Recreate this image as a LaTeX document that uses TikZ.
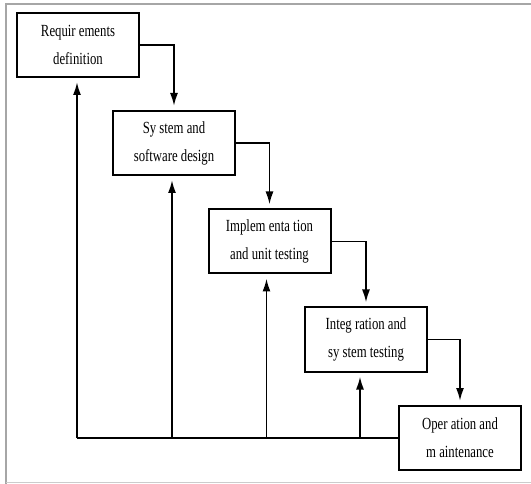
\documentclass[tikz,border=0pt]{standalone}
\usepackage{fontspec}
\setmainfont{Liberation Serif}[FakeStretch=0.75]
\usetikzlibrary{arrows.meta}
\tikzset{
  phase/.style={draw, line width=2pt, minimum width=122pt, minimum height=64pt,
    align=center, font=\fontsize{17}{28}\selectfont},
  flow/.style={line width=1.8pt, -{Latex[length=13pt,width=8pt]}, shorten >=4pt},
  back/.style={line width=1.8pt}
}
\begin{document}
\begin{tikzpicture}[x=1pt,y=-1pt]
\useasboundingbox (0,0) rectangle (531,484);
% frame
\draw[gray!70, line width=1.5pt] (6,484) -- (6,4) -- (531,4);
\draw[gray!40, line width=1pt] (6,482.5) -- (531,482.5);
% phases
\node[phase] (req) at (78,45) {Requir ements\\definition};
\node[phase] (design) at (174,143) {Sy stem and\\software design};
\node[phase] (impl) at (269.5,241.5) {Implem enta tion\\and unit testing};
\node[phase] (integ) at (366,339.5) {Integ ration and\\sy stem testing};
\node[phase] (oper) at (460,438) {Oper ation and\\m aintenance};
% forward flow
\draw[flow] (req.east) -| (design.north);
\draw[flow] (design.east) -| (impl.north);
\draw[flow] (impl.east) -| (integ.north);
\draw[flow] (integ.east) -| (oper.north);
% feedback
\coordinate (fbend) at ([xshift=-1pt]req.south |- oper.west);
\draw[back] (oper.west) -- (fbend);
\draw[flow] (fbend) -- ([xshift=-1pt]req.south);
\foreach \n/\dx in {design/-2, impl/-3, integ/-6}
  \draw[flow] ([xshift=\dx pt]\n.south |- oper.west) -- ([xshift=\dx pt]\n.south);
\end{tikzpicture}
\end{document}
